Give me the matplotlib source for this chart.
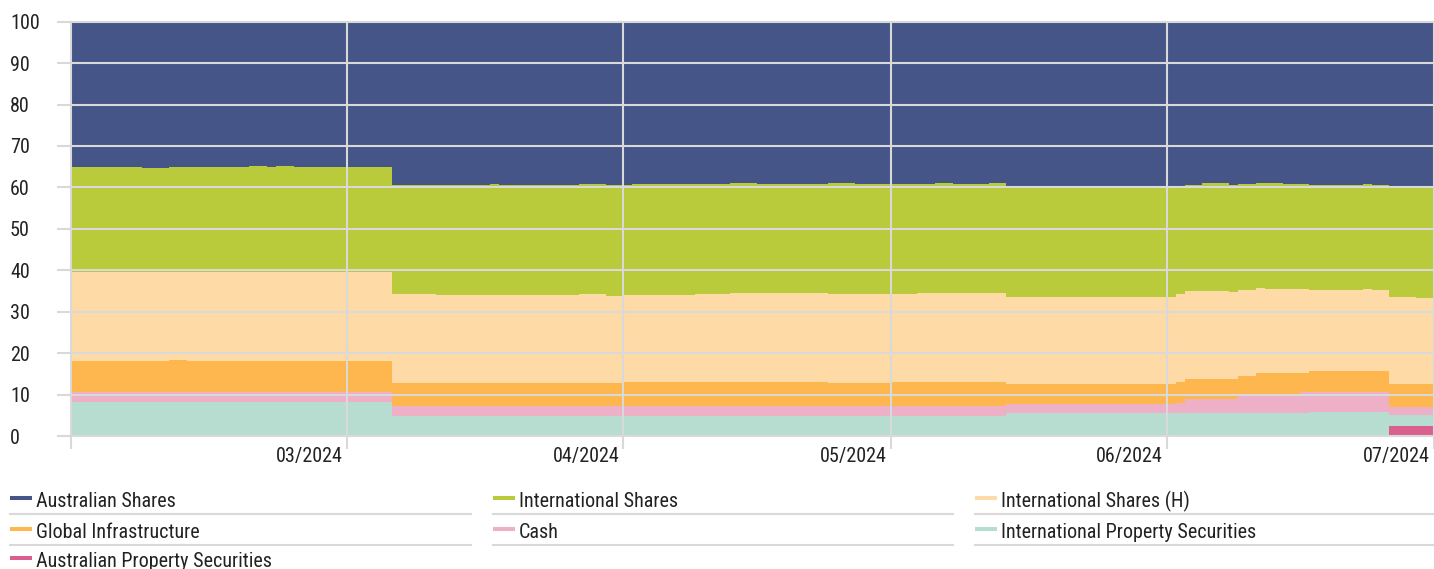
import matplotlib
matplotlib.use("Agg")
import matplotlib.pyplot as plt
import matplotlib.transforms as mtransforms
from matplotlib.lines import Line2D
from matplotlib import font_manager
import pandas as pd

# ---------------- data ----------------
dates = ["2024-01-30", "2024-02-07", "2024-02-10", "2024-02-12", "2024-02-19", "2024-02-21",
         "2024-02-22", "2024-02-24", "2024-03-06", "2024-03-11", "2024-03-17", "2024-03-18",
         "2024-03-27", "2024-03-30", "2024-04-01", "2024-04-02", "2024-04-09", "2024-04-13",
         "2024-04-16", "2024-04-23", "2024-04-24", "2024-04-27", "2024-05-01", "2024-05-04",
         "2024-05-06", "2024-05-08", "2024-05-12", "2024-05-14", "2024-06-01", "2024-06-02",
         "2024-06-03", "2024-06-05", "2024-06-08", "2024-06-09", "2024-06-11", "2024-06-12",
         "2024-06-14", "2024-06-16", "2024-06-17", "2024-06-23", "2024-06-24", "2024-06-26",
         "2024-06-29", "2024-07-01"]

aus_property = [0.0] * 41 + [2.4, 2.4, 2.4]
intl_property = [8.3] * 8 + [4.8] * 19 + [5.5] * 3 + [5.6] * 8 + [5.7] * 3 + [2.6] * 3
cash = [2.2, 2.2, 2.3] + [2.2] * 5 + [2.4] * 19 + [2.2, 2.2, 2.4] + [3.4] * 3 + [4.1] * 4 \
       + [5.0] + [4.9] * 3 + [2.0] * 3
global_infra = [7.6, 7.6, 7.7, 7.6, 7.6, 7.6, 7.6, 7.5, 5.6, 5.6, 5.6, 5.6, 5.6, 5.5, 5.8, 5.8,
                5.8, 5.8, 5.8, 5.8, 5.7, 5.7, 5.8, 5.8, 5.8, 5.8, 5.8, 4.9, 4.9, 5.1, 4.8, 4.8,
                4.8, 4.8, 5.5, 5.5, 5.5, 4.6, 5.0, 5.0, 5.1, 5.6, 5.6, 5.6]
intl_shares_h = [21.5, 21.5, 21.3, 21.5, 21.5, 21.5, 21.5, 21.6, 21.5, 21.3, 21.3, 21.3, 21.4,
                 21.2, 21.1, 21.1, 21.3, 21.5, 21.4, 21.4, 21.3, 21.3, 21.3, 21.5, 21.5, 21.4,
                 21.6, 20.9, 21.0, 21.3, 21.1, 21.1, 21.0, 20.8, 20.5, 20.3, 20.3, 20.3, 19.6,
                 19.8, 19.5, 20.9, 20.7, 20.7]
intl_shares = [25.4, 25.2, 25.4, 25.4, 25.6, 25.4, 25.6, 25.3, 26.3, 26.4, 26.7, 26.4, 26.6,
               26.6, 26.4, 26.7, 26.5, 26.5, 26.5, 26.4, 26.8, 26.6, 26.5, 26.3, 26.5, 26.4,
               26.4, 26.9, 26.8, 26.1, 25.8, 26.1, 25.9, 25.6, 25.4, 25.5, 25.3, 25.3, 25.4,
               25.5, 25.5, 26.9, 27.1, 27.1]
aus_shares = [35.0, 35.2, 35.0, 35.0, 34.8, 35.0, 34.8, 35.1, 39.4, 39.5, 39.2, 39.5, 39.2,
              39.5, 39.5, 39.2, 39.2, 39.0, 39.1, 39.2, 39.0, 39.2, 39.2, 39.2, 39.0, 39.2,
              39.0, 39.6, 39.6, 39.6, 39.3, 39.0, 39.3, 39.1, 38.9, 39.0, 39.2, 39.2, 39.4,
              39.1, 39.3, 39.6, 39.6, 39.6]

# stacking order bottom -> top
stack_names = ["Australian Property Securities", "International Property Securities", "Cash",
               "Global Infrastructure", "International Shares (H)", "International Shares",
               "Australian Shares"]
stack_values = [aus_property, intl_property, cash, global_infra, intl_shares_h, intl_shares,
                aus_shares]
stack_colors = ["#D95F8F", "#B6DDD0", "#EDB0C7", "#FEB64E", "#FEDBA6", "#B9CA3A", "#465587"]

legend_order = ["Australian Shares", "International Shares", "International Shares (H)",
                "Global Infrastructure", "Cash", "International Property Securities",
                "Australian Property Securities"]

tick_dates = ["2024-01-30", "2024-03-01", "2024-04-01", "2024-05-01", "2024-06-01", "2024-07-01"]
tick_labels = ["", "03/2024", "04/2024", "05/2024", "06/2024", "07/2024"]
y_ticks = list(range(0, 101, 10))

# ---------------- style ----------------
avail = {f.name for f in font_manager.fontManager.ttflist}
cands = ["Roboto Condensed", "Liberation Sans Narrow", "Open Sans Condensed", "DejaVu Sans"]
FONT = [c for c in cands if c in avail] or ["DejaVu Sans"]
plt.rcParams["font.family"] = FONT
plt.rcParams["font.stretch"] = "condensed"
TXT = "#222222"
GRID = "#D9D9D9"
FS = 14.5

W, H = 1434, 569
fig = plt.figure(figsize=(W / 100, H / 100), dpi=100)
ax = fig.add_axes([71 / W, 1 - 436 / H, 1 - 71 / W, (436 - 21.7) / H])

x = pd.to_datetime(dates)
ax.stackplot(x, *stack_values, colors=stack_colors, step="post", linewidth=0,
             edgecolor="none", labels=stack_names)

ax.set_ylim(0, 100)
ax.set_xlim(pd.Timestamp(dates[0]), pd.Timestamp(dates[-1]))

for s in ax.spines.values():
    s.set_visible(False)

ax.set_axisbelow(False)
ax.set_yticks(y_ticks)
ax.set_yticklabels([str(v) for v in y_ticks])
ax.set_xticks(pd.to_datetime(tick_dates))
ax.set_xticklabels(tick_labels)
ax.grid(True, color=GRID, linewidth=1.5)

ax.tick_params(axis="y", length=10.1, width=1.5, color=GRID, pad=33.8,
               labelsize=FS, labelcolor=TXT)
ax.tick_params(axis="x", length=9.4, width=1.5, color=GRID, pad=-1.5,
               labelsize=FS, labelcolor=TXT)
for lab in ax.get_yticklabels():
    lab.set_horizontalalignment("left")
off = mtransforms.ScaledTranslation(-4 / 100, 0, fig.dpi_scale_trans)
for lab in ax.get_xticklabels():
    lab.set_horizontalalignment("right")
    lab.set_transform(lab.get_transform() + off)

for gl in ax.get_xgridlines() + ax.get_ygridlines():
    gl.set_clip_on(False)

# ---------------- legend (3 columns with separators) ----------------
color_of = dict(zip(stack_names, stack_colors))
col_x0 = [10, 493, 975]
col_x1 = [471, 953, 1434]
row_base = [507, 538, 567]
for i, name in enumerate(legend_order):
    r, c = divmod(i, 3)
    y_base = row_base[r]
    x0 = col_x0[c]
    sw_y = y_base - 9
    fig.add_artist(Line2D([x0 / W, (x0 + 22) / W], [1 - sw_y / H, 1 - sw_y / H],
                          color=color_of[name], linewidth=2.9, solid_capstyle="butt"))
    fig.text((x0 + 26) / W, 1 - y_base / H, name, fontsize=FS, color=TXT,
             ha="left", va="baseline")
    sep_y = y_base + 7
    if r < 2:
        fig.add_artist(Line2D([x0 / W, col_x1[c] / W], [1 - sep_y / H, 1 - sep_y / H],
                              color=GRID, linewidth=1.5))

fig.savefig("out.png", dpi=100)
